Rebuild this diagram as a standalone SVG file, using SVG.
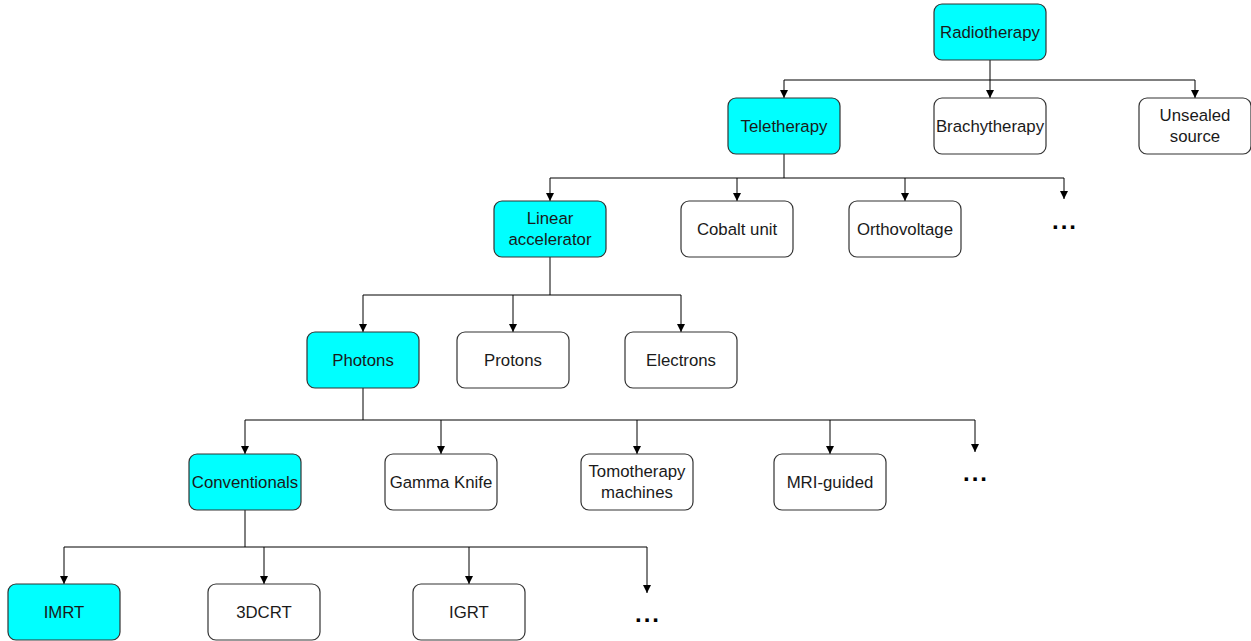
<svg xmlns="http://www.w3.org/2000/svg" width="1251" height="641" viewBox="0 0 1251 641">
<style>
.n rect{stroke:#333;stroke-width:1.2;rx:8;ry:8}
.c rect{fill:#00ffff}
.w rect{fill:#ffffff}
text{font-family:"Liberation Sans",Arial,sans-serif;font-size:16.8px;fill:#1a1a1a;text-anchor:middle}
.dots{font-size:24px;font-weight:bold;letter-spacing:2px;fill:#000}
.e path{fill:none;stroke:#000;stroke-width:1}
</style>
<defs>
<marker id="a" viewBox="0 0 10 10" refX="10" refY="5" markerWidth="8" markerHeight="8" markerUnits="userSpaceOnUse" orient="auto">
<path d="M0,0 L10,5 L0,10 Z" fill="#000"/>
</marker>
</defs>
<rect width="1251" height="641" fill="#fff"/>
<g class="e">
<path d="M990,60 V80"/>
<path d="M784,80 H1195"/>
<path d="M784,80 V98" marker-end="url(#a)"/>
<path d="M990,80 V98" marker-end="url(#a)"/>
<path d="M1195,80 V98" marker-end="url(#a)"/>
<path d="M784,154 V178"/>
<path d="M550,178 H1064"/>
<path d="M550,178 V201" marker-end="url(#a)"/>
<path d="M737,178 V201" marker-end="url(#a)"/>
<path d="M905,178 V201" marker-end="url(#a)"/>
<path d="M1064,178 V199" marker-end="url(#a)"/>
<path d="M550,257 V295"/>
<path d="M363,295 H681"/>
<path d="M363,295 V332" marker-end="url(#a)"/>
<path d="M513,295 V332" marker-end="url(#a)"/>
<path d="M681,295 V332" marker-end="url(#a)"/>
<path d="M363,388 V420"/>
<path d="M245,420 H975"/>
<path d="M245,420 V454" marker-end="url(#a)"/>
<path d="M441,420 V454" marker-end="url(#a)"/>
<path d="M637,420 V454" marker-end="url(#a)"/>
<path d="M830,420 V454" marker-end="url(#a)"/>
<path d="M975,420 V452" marker-end="url(#a)"/>
<path d="M245,510 V547"/>
<path d="M64,547 H647"/>
<path d="M64,547 V584" marker-end="url(#a)"/>
<path d="M264,547 V584" marker-end="url(#a)"/>
<path d="M469,547 V584" marker-end="url(#a)"/>
<path d="M647,547 V593" marker-end="url(#a)"/>
</g>
<g id="radiotherapy" class="n c"><rect x="934" y="4" width="112" height="56"/><text x="990" y="38">Radiotherapy</text></g>
<g id="teletherapy" class="n c"><rect x="728" y="98" width="112" height="56"/><text x="784" y="132">Teletherapy</text></g>
<g id="brachytherapy" class="n w"><rect x="934" y="98" width="112" height="56"/><text x="990" y="132">Brachytherapy</text></g>
<g id="unsealed" class="n w"><rect x="1139" y="98" width="112" height="56"/><text x="1195" y="121">Unsealed</text><text x="1195" y="142">source</text></g>
<g id="linac" class="n c"><rect x="494" y="201" width="112" height="56"/><text x="550" y="224">Linear</text><text x="550" y="245">accelerator</text></g>
<g id="cobalt" class="n w"><rect x="681" y="201" width="112" height="56"/><text x="737" y="235">Cobalt unit</text></g>
<g id="ortho" class="n w"><rect x="849" y="201" width="112" height="56"/><text x="905" y="235">Orthovoltage</text></g>
<g id="dots1"><text class="dots" x="1065" y="229">...</text></g>
<g id="photons" class="n c"><rect x="307" y="332" width="112" height="56"/><text x="363" y="366">Photons</text></g>
<g id="protons" class="n w"><rect x="457" y="332" width="112" height="56"/><text x="513" y="366">Protons</text></g>
<g id="electrons" class="n w"><rect x="625" y="332" width="112" height="56"/><text x="681" y="366">Electrons</text></g>
<g id="conventionals" class="n c"><rect x="189" y="454" width="112" height="56"/><text x="245" y="488">Conventionals</text></g>
<g id="gamma" class="n w"><rect x="385" y="454" width="112" height="56"/><text x="441" y="488">Gamma Knife</text></g>
<g id="tomo" class="n w"><rect x="581" y="454" width="112" height="56"/><text x="637" y="477">Tomotherapy</text><text x="637" y="498">machines</text></g>
<g id="mri" class="n w"><rect x="774" y="454" width="112" height="56"/><text x="830" y="488">MRI-guided</text></g>
<g id="dots2"><text class="dots" x="976" y="481">...</text></g>
<g id="imrt" class="n c"><rect x="8" y="584" width="112" height="56"/><text x="64" y="618">IMRT</text></g>
<g id="3dcrt" class="n w"><rect x="208" y="584" width="112" height="56"/><text x="264" y="618">3DCRT</text></g>
<g id="igrt" class="n w"><rect x="413" y="584" width="112" height="56"/><text x="469" y="618">IGRT</text></g>
<g id="dots3"><text class="dots" x="648" y="622">...</text></g>
</svg>
